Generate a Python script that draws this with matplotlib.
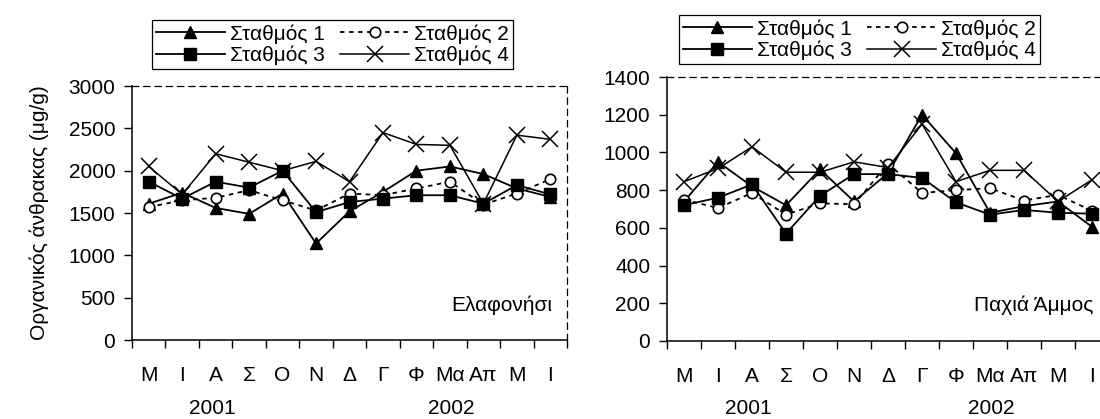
import matplotlib
matplotlib.use("Agg")
import matplotlib.pyplot as plt
from matplotlib.transforms import blended_transform_factory
import numpy as np

plt.rcParams['font.family'] = ['Liberation Sans', 'DejaVu Sans']
plt.rcParams['font.size'] = 15

# Month labels (May 2001 - June 2002)
months = ["Μ", "Ι", "Α", "Σ", "Ο", "Ν", "Δ", "Γ", "Φ", "Μα", "Απ", "Μ", "Ι"]
years = ["2001", "2002"]
stations = ["Σταθμός 1", "Σταθμός 2", "Σταθμός 3", "Σταθμός 4"]

# Ελαφονήσι (μg/g)
elaf_s1 = [1610, 1740, 1560, 1490, 1730, 1140, 1520, 1750, 2000, 2050, 1960, 1790, 1690]
elaf_s2 = [1570, 1650, 1680, 1770, 1650, 1530, 1730, 1710, 1790, 1870, 1600, 1730, 1900]
elaf_s3 = [1870, 1670, 1870, 1800, 2000, 1510, 1630, 1670, 1710, 1710, 1610, 1830, 1720]
elaf_s4 = [2050, 1720, 2200, 2100, 2000, 2110, 1870, 2450, 2310, 2300, 1610, 2420, 2370]

# Παχιά Άμμος (μg/g)
pach_s1 = [740, 950, 820, 720, 910, 740, 890, 1200, 995, 680, 715, 740, 605]
pach_s2 = [750, 705, 785, 670, 730, 725, 940, 785, 800, 810, 745, 775, 690]
pach_s3 = [720, 760, 830, 570, 770, 885, 885, 865, 735, 670, 695, 680, 675]
pach_s4 = [845, 915, 1030, 895, 895, 950, 920, 1150, 845, 905, 905, 740, 855]

styles = [
    dict(color="black", ls="-", lw=1.3, marker="^", ms=8.5, mfc="black", mec="black"),
    dict(color="black", ls=(0, (2.5, 2.5)), lw=1.3, marker="o", ms=7.5, mfc="white", mec="black", mew=1.2),
    dict(color="black", ls="-", lw=1.3, marker="s", ms=8, mfc="black", mec="black"),
    dict(color="black", ls="-", lw=1.1, marker="x", ms=11, mew=1.1),
]

fig = plt.figure(figsize=(11, 4.19), dpi=100)
ax1 = fig.add_axes([0.12, 0.1885, 0.3955, 0.6062])
ax2 = fig.add_axes([0.6064, 0.1862, 0.4018, 0.63])


def draw(ax, series, ymax, ystep, site, legend_xy):
    x = np.arange(len(months))
    lines = []
    for vals, st, name in zip(series, styles, stations):
        ln, = ax.plot(x, vals, label=name, clip_on=False, **st)
        lines.append(ln)
    ax.set_xlim(-0.5, len(months) - 0.5)
    ax.set_ylim(0, ymax)
    ax.set_yticks(np.arange(0, ymax + 1, ystep))
    ax.set_xticks(np.arange(-0.5, len(months), 1.0))
    ax.set_xticklabels([])
    ax.set_xticks(x, minor=True)
    ax.set_xticklabels(months, minor=True)
    ax.tick_params(axis="x", which="major", direction="out", length=6, width=1)
    ax.tick_params(axis="x", which="minor", length=0, pad=19)
    ax.tick_params(axis="y", direction="out", length=6, width=1, pad=6)
    for s in ["top", "right"]:
        ax.spines[s].set_linestyle((0, (5, 4)))
        ax.spines[s].set_linewidth(0.9)
    ax.spines["left"].set_linewidth(1.1)
    ax.spines["bottom"].set_linewidth(1.1)
    ax.text(0.965, 0.135, site, transform=ax.transAxes, ha="right", va="center")
    # year labels, 68 px below the x axis
    tr = blended_transform_factory(ax.transData, fig.dpi_scale_trans)
    y_in = (fig.transFigure.inverted().transform(ax.transAxes.transform((0, 0)))[1] * 4.19) - 0.68
    ax.text(1.9, y_in, years[0], transform=tr, ha="center", va="center")
    ax.text(9.03, y_in, years[1], transform=tr, ha="center", va="center")
    handles = [lines[0], lines[2], lines[1], lines[3]]
    leg = fig.legend(handles=handles, labels=[h.get_label() for h in handles], ncol=2,
                     loc="upper left", bbox_to_anchor=legend_xy, frameon=True, fancybox=False,
                     edgecolor="black", framealpha=1, borderpad=0.2, labelspacing=0.08,
                     handlelength=3.3, handletextpad=0.25, columnspacing=0.75, borderaxespad=0)
    leg.get_frame().set_linewidth(0.9)


draw(ax1, [elaf_s1, elaf_s2, elaf_s3, elaf_s4], 3000, 500, "Ελαφονήσι", (0.138, 0.952))
draw(ax2, [pach_s1, pach_s2, pach_s3, pach_s4], 1400, 200, "Παχιά Άμμος", (0.617, 0.964))
ax1.set_ylabel("Οργανικός άνθρακας (μg/g)", labelpad=14)

fig.savefig("out.png", dpi=100)
